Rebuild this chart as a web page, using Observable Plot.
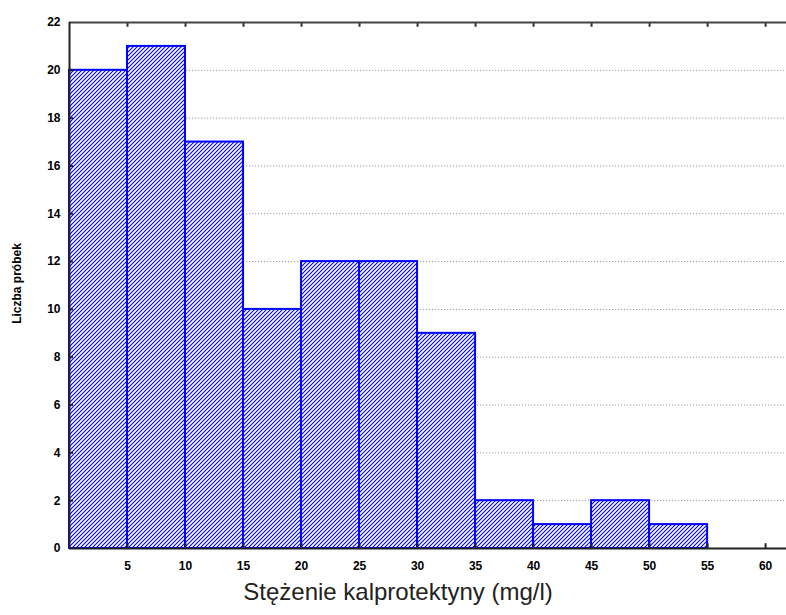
<!DOCTYPE html>
<html>
<head>
<meta charset="utf-8">
<script src="https://cdn.jsdelivr.net/npm/d3@7"></script>
<script src="https://cdn.jsdelivr.net/npm/@observablehq/plot@0.6"></script>
<style>
  html, body { margin: 0; padding: 0; background: #fff; }
  svg { display: block; }
</style>
</head>
<body>
<div id="chart"></div>
<script>
const binStarts = [0, 5, 10, 15, 20, 25, 30, 35, 40, 45, 50];
const binWidth = 5;
const counts = [20, 21, 17, 10, 12, 12, 9, 2, 1, 2, 1];
const xTicks = [5, 10, 15, 20, 25, 30, 35, 40, 45, 50, 55, 60];
const yTicks = [0, 2, 4, 6, 8, 10, 12, 14, 16, 18, 20, 22];
const gridTicks = [2, 4, 6, 8, 10, 12, 14, 16, 18, 20];
const xLabel = "Stężenie kalprotektyny (mg/l)";
const yLabel = "Liczba próbek";

const bins = binStarts.map((s, i) => ({x1: s, x2: s + binWidth, y: counts[i]}));

const font = "Liberation Sans, Arial, sans-serif";

const chart = Plot.plot({
  width: 786,
  height: 615,
  marginLeft: 69,
  marginRight: 0,
  marginTop: 22,
  marginBottom: 67,
  style: {fontFamily: font, background: "#fff"},
  x: {domain: [0, 61.8]},
  y: {domain: [0, 22]},
  marks: [
    Plot.gridY(gridTicks, {stroke: "#9a9a9a", strokeOpacity: 1, strokeDasharray: "1.2,1.8", strokeWidth: 1}),
    Plot.rectY(bins, {x1: "x1", x2: "x2", y: "y", fill: "url(#hatch)", stroke: "#0000ff", strokeWidth: 2}),
    // inward tick marks
    Plot.ruleY(yTicks.slice(1, -1), {x1: 0, x2: 0.35, stroke: "#222", strokeWidth: 2}),
    Plot.ruleX(xTicks, {y1: 0, y2: 0.2, stroke: "#222", strokeWidth: 2}),
    Plot.ruleX(xTicks, {y1: 22, y2: 21.8, stroke: "#333", strokeWidth: 2}),
    // frame
    Plot.ruleY([0], {stroke: "#222", strokeWidth: 2}),
    Plot.ruleY([22], {stroke: "#444", strokeWidth: 2}),
    Plot.ruleX([0], {stroke: "#222", strokeWidth: 2}),
    Plot.axisY(yTicks, {tickSize: 0, tickPadding: 9, fontSize: 12, fill: "#000", label: null, fontWeight: 600, letterSpacing: 0.8}),
    Plot.axisX(xTicks, {tickSize: 0, tickPadding: 13, fontSize: 12, fill: "#000", label: null, fontWeight: 600, letterSpacing: 0.8}),
    Plot.text([yLabel], {frameAnchor: "left", textAnchor: "middle", dx: -52, dy: -2, rotate: -90, fontSize: 12, fill: "#000", fontWeight: 600, letterSpacing: 1.4}),
    Plot.text([xLabel], {frameAnchor: "bottom", dx: -30, dy: 51, fontSize: 24, fill: "#222"})
  ]
});

// hatch pattern definition
const ns = "http://www.w3.org/2000/svg";
const defs = document.createElementNS(ns, "defs");
const pat = document.createElementNS(ns, "pattern");
pat.setAttribute("id", "hatch");
pat.setAttribute("patternUnits", "userSpaceOnUse");
pat.setAttribute("width", "4");
pat.setAttribute("height", "4");
const bg = document.createElementNS(ns, "rect");
bg.setAttribute("width", "4"); bg.setAttribute("height", "4"); bg.setAttribute("fill", "#fff");
pat.appendChild(bg);
const p = document.createElementNS(ns, "path");
p.setAttribute("d", "M-1,1 L1,-1 M0,4 L4,0 M3,5 L5,3");
p.setAttribute("stroke", "#0000ff");
p.setAttribute("stroke-width", "1.1");
pat.appendChild(p);
defs.appendChild(pat);
chart.insertBefore(defs, chart.firstChild);

document.getElementById("chart").appendChild(chart);
</script>
</body>
</html>
